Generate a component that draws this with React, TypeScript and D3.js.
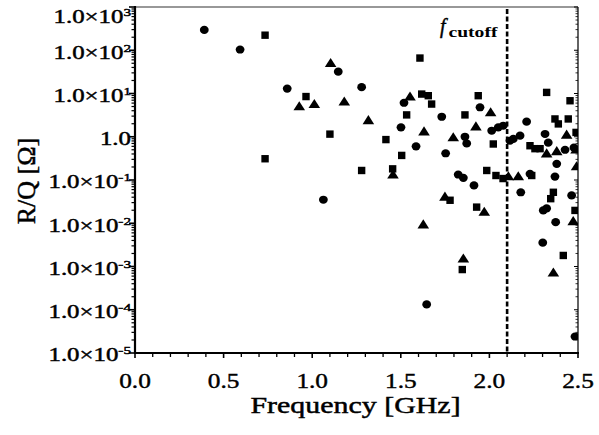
import React from 'react';
import * as d3 from 'd3';

// Circles series
const circleFreq = [0.391,0.593,0.859,1.147,1.279,1.063,1.518,1.501,1.586,1.731,1.753,1.947,1.862,1.872,1.824,1.853,1.913,1.646,2.013,2.050,2.078,2.210,2.135,2.173,2.116,2.314,2.332,2.427,2.477,2.380,2.370,2.229,2.177,2.464,2.304,2.323,2.374,2.301,2.483];
const circleRQ = [295,104,13,32,14,0.035,6.1,1.65,0.60,2.9,0.415,4.8,1.0,0.70,0.134,0.112,0.075,1.33e-4,1.38,1.65,1.8,2.23,0.89,1.06,0.81,1.16,0.73,0.50,0.56,0.236,0.12,0.139,0.052,0.044,0.0198,0.022,0.0106,0.00356,2.4e-5];

// Squares series
const squareFreq = [0.734,0.734,0.965,1.100,1.279,1.454,1.416,1.505,1.533,1.608,1.618,1.655,1.674,1.862,1.937,2.022,1.778,1.928,1.847,1.985,2.037,2.077,2.239,2.323,2.455,2.370,2.389,2.445,2.489,2.229,2.257,2.286,2.361,2.346,2.483,2.417];
const squareRQ = [223,0.31,8.5,1.15,0.166,0.181,0.86,0.37,3.2,66,9.7,8.9,5.7,3.2,8.9,0.68,0.034,0.0236,8.5e-4,0.166,0.127,0.108,0.127,10.6,6.8,2.58,1.98,2.58,1.26,0.62,0.53,0.53,0.052,0.037,0.0198,0.0018];

// Triangles series
const triFreq = [1.104,0.927,1.012,1.181,1.317,1.552,1.631,1.796,1.924,2.007,1.456,1.749,1.971,1.627,1.853,2.361,2.107,2.163,2.436,2.489,2.492,2.473,2.323,2.380];
const triRQ = [48,4.8,5.4,6.2,2.3,8.1,1.26,0.92,1.65,3.5,0.127,0.039,0.0175,0.0089,0.00145,6.9e-4,0.116,0.116,1.06,0.48,0.197,0.0106,0.39,0.44];

const xTicks = [0, 0.5, 1.0, 1.5, 2.0, 2.5];
const xTickLabels = ['0.0', '0.5', '1.0', '1.5', '2.0', '2.5'];
const yExponents = [3, 2, 1, 0, -1, -2, -3, -4, -5];
const cutoffFreq = 2.1;

const W = 599, H = 435;
const L = 135, R = 578, T = 7, B = 353;
const FONT = '"Liberation Serif", "Times New Roman", serif';

export default function App() {
  const x = d3.scaleLinear().domain([0, 2.5]).range([L, R]);
  const y = d3.scaleLog().domain([1e-5, 1e3]).range([B, T]);

  const circ = d3.symbol().type(d3.symbolCircle).size(52)()!;
  const sq = d3.symbol().type(d3.symbolSquare).size(55)()!;
  const tri = d3.symbol().type(d3.symbolTriangle).size(48)()!;

  const minorY: number[] = [];
  for (let e = -5; e < 3; e++) for (let m = 2; m <= 9; m++) minorY.push(m * Math.pow(10, e));
  const minorX: number[] = d3.range(0, 26).map(i => i / 10).filter(v => Math.abs(v * 2 - Math.round(v * 2)) > 1e-6);

  const txt = { fill: '#000', stroke: '#000', strokeWidth: 0.45 };

  return (
    <svg width={W} height={H} style={{ position: 'absolute', left: 0, top: 0, background: '#fff' }} fontFamily={FONT}>
      <defs>
        <clipPath id="plotclip"><rect x={L} y={T} width={R - L} height={B - T} /></clipPath>
      </defs>
      <rect x={0} y={0} width={W} height={H} fill="#fff" />

      {/* frame */}
      <line x1={L} y1={T} x2={R} y2={T} stroke="#333" strokeWidth={1.2} />
      <line x1={R} y1={T} x2={R} y2={B} stroke="#222" strokeWidth={1.4} />
      <line x1={L} y1={T - 1} x2={L} y2={B + 1} stroke="#000" strokeWidth={2.2} />
      <line x1={L - 1} y1={B} x2={R + 1} y2={B} stroke="#000" strokeWidth={2.2} />

      {/* y ticks */}
      {yExponents.map(e => (
        <g key={'ym' + e}>
          <line x1={L - 6} x2={L} y1={y(Math.pow(10, e))} y2={y(Math.pow(10, e))} stroke="#000" strokeWidth={1.6} />
          <line x1={R - 4} x2={R} y1={y(Math.pow(10, e))} y2={y(Math.pow(10, e))} stroke="#000" strokeWidth={1} />
        </g>
      ))}
      {minorY.map((v, i) => (
        <g key={'yn' + i}>
          <line x1={L - 3.5} x2={L} y1={y(v)} y2={y(v)} stroke="#000" strokeWidth={1.2} />
          <line x1={R - 2.5} x2={R} y1={y(v)} y2={y(v)} stroke="#000" strokeWidth={0.8} />
        </g>
      ))}

      {/* x ticks */}
      {xTicks.map(v => (
        <line key={'xm' + v} x1={x(v)} x2={x(v)} y1={B} y2={B + 5} stroke="#000" strokeWidth={1.6} />
      ))}
      {minorX.map((v, i) => (
        <line key={'xn' + i} x1={x(v)} x2={x(v)} y1={B} y2={B + 4} stroke="#000" strokeWidth={1.3} />
      ))}

      {/* y tick labels */}
      {yExponents.map(e => {
        const yy = e === 3 ? y(Math.pow(10, e)) + 10 : y(Math.pow(10, e)) + 2;
        return (
          <text key={'yl' + e} transform={`translate(${L - 4},${yy}) scale(1.38,1)`} textAnchor="end" fontSize={18} dy="0.35em" {...txt}>
            {e === 0 ? '1.0' : (<>
              1.0×10<tspan fontSize={11} dy={-7}>{e < 0 ? '-' + (-e) : String(e)}</tspan>
            </>)}
          </text>
        );
      })}

      {/* x tick labels */}
      {xTicks.map((v, i) => (
        <text key={'xl' + v} transform={`translate(${x(v)},388) scale(1.15,1)`} textAnchor="middle" fontSize={22} {...txt}>
          {xTickLabels[i]}
        </text>
      ))}

      {/* axis titles */}
      <text transform={`translate(355.5,413) scale(1.33,1)`} textAnchor="middle" fontSize={22.5} {...txt}>Frequency [GHz]</text>
      <text transform={`translate(35,181) rotate(-90)`} textAnchor="middle" fontSize={26} {...txt}>R/Q [Ω]</text>

      {/* cutoff line */}
      <line x1={x(cutoffFreq)} x2={x(cutoffFreq)} y1={T + 2} y2={B} stroke="#000" strokeWidth={2.6} strokeDasharray="5,2.5" />
      <text transform="translate(440,33)" fontSize={20} fontStyle="italic" {...txt}>f</text>
      <text transform="translate(448.5,37) scale(1.4,1)" fontSize={14} fontWeight="bold" fill="#000">cutoff</text>

      {/* markers */}
      <g clipPath="url(#plotclip)" fill="#000">
        {circleFreq.map((f, i) => (
          <path key={'c' + i} d={circ} transform={`translate(${x(f)},${y(circleRQ[i])}) scale(1.08,1)`} />
        ))}
        {squareFreq.map((f, i) => (
          <path key={'s' + i} d={sq} transform={`translate(${x(f)},${y(squareRQ[i])})`} />
        ))}
        {triFreq.map((f, i) => (
          <path key={'t' + i} d={tri} transform={`translate(${x(f)},${y(triRQ[i])}) scale(1.1,1)`} />
        ))}
      </g>
    </svg>
  );
}
